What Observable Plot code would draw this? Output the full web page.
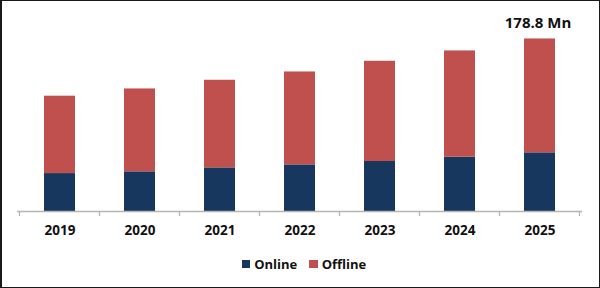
<!DOCTYPE html>
<html>
<head>
<meta charset="utf-8">
<script src="https://cdn.jsdelivr.net/npm/d3@7"></script>
<script src="https://cdn.jsdelivr.net/npm/@observablehq/plot@0.6"></script>
<style>
  body { margin: 0; background: #fff; }
  #wrap { position: relative; width: 600px; height: 288px; background: #fff; overflow: hidden; font-family: "Open Sans", sans-serif; }
  #frame { position: absolute; left: 0; top: 0; width: 600px; height: 288px; box-sizing: border-box; border: 1px solid #1a1a1a; border-left-width: 2px; pointer-events: none; }
  #legend { position: absolute; left: 4px; top: 252px; width: 600px; height: 24px; display: flex; justify-content: center; align-items: center; font-weight: 700; font-size: 13px; color: #111; }
  .item { display: flex; align-items: center; margin: 0 6px; }
  .sw { width: 8.5px; height: 8.5px; margin-right: 4px; }
</style>
</head>
<body>
<div id="wrap">
  <div id="chart"></div>
  <div id="legend"></div>
  <div id="frame"></div>
</div>
<script>
const years = ["2019", "2020", "2021", "2022", "2023", "2024", "2025"];
const online = [39.3, 41.1, 45.2, 48.3, 51.8, 56.3, 60.8];
const offline = [80.2, 85.9, 90.8, 96.3, 103.9, 110.1, 118.0];
const seriesNames = ["Online", "Offline"];
const seriesColors = ["#17375E", "#C0504D"];
const labelYear = "2025";
const labelText = "178.8 Mn";

const rows = [];
years.forEach((y, i) => {
  rows.push({year: y, series: "Online", value: online[i]});
  rows.push({year: y, series: "Offline", value: offline[i]});
});
const totals = years.map((y, i) => ({year: y, total: online[i] + offline[i]}));
const labelRow = totals.filter(d => d.year === labelYear).map(d => ({...d, text: labelText}));

const chart = Plot.plot({
  width: 600,
  height: 250,
  marginLeft: 17,
  marginRight: 18,
  marginTop: 18,
  marginBottom: 39,
  style: {fontFamily: "'Open Sans', sans-serif", background: "transparent", overflow: "visible"},
  x: {domain: years, paddingInner: 0.61, paddingOuter: 0.305, label: null},
  y: {domain: [0, 200], axis: null},
  color: {domain: seriesNames, range: seriesColors},
  marks: [
    Plot.barY(rows, Plot.stackY({x: "year", y: "value", fill: "series", order: seriesNames})),
    Plot.ruleY([0], {stroke: "#b5b5b5", strokeWidth: 1.3}),
    Plot.axisX({tickSize: 0, tickPadding: 14, fontSize: 13.5, fontWeight: 700, fill: "#111"}),
    Plot.text(labelRow, {x: "year", y: "total", text: "text", dy: -16, dx: -2, fontSize: 15, fontWeight: 700, fill: "#111"})
  ]
});
document.getElementById("chart").appendChild(chart);

// boundary tick marks between categories, derived from the band scale
const xs = chart.scale("x");
const ys = chart.scale("y");
const base = ys.apply(0);
const svg = d3.select(chart);
const bounds = years.map(y => xs.apply(y) - (xs.step - xs.bandwidth) / 2);
bounds.push(xs.apply(years[years.length - 1]) + xs.bandwidth + (xs.step - xs.bandwidth) / 2);
svg.append("g").selectAll("line").data(bounds).join("line")
  .attr("x1", d => d).attr("x2", d => d)
  .attr("y1", base).attr("y2", base + 5)
  .attr("stroke", "#b5b5b5").attr("stroke-width", 1.3);

const legend = document.getElementById("legend");
seriesNames.forEach((name, i) => {
  const it = document.createElement("div");
  it.className = "item";
  const sw = document.createElement("div");
  sw.className = "sw";
  sw.style.background = seriesColors[i];
  const t = document.createElement("span");
  t.textContent = name;
  it.appendChild(sw); it.appendChild(t);
  legend.appendChild(it);
});
</script>
</body>
</html>
